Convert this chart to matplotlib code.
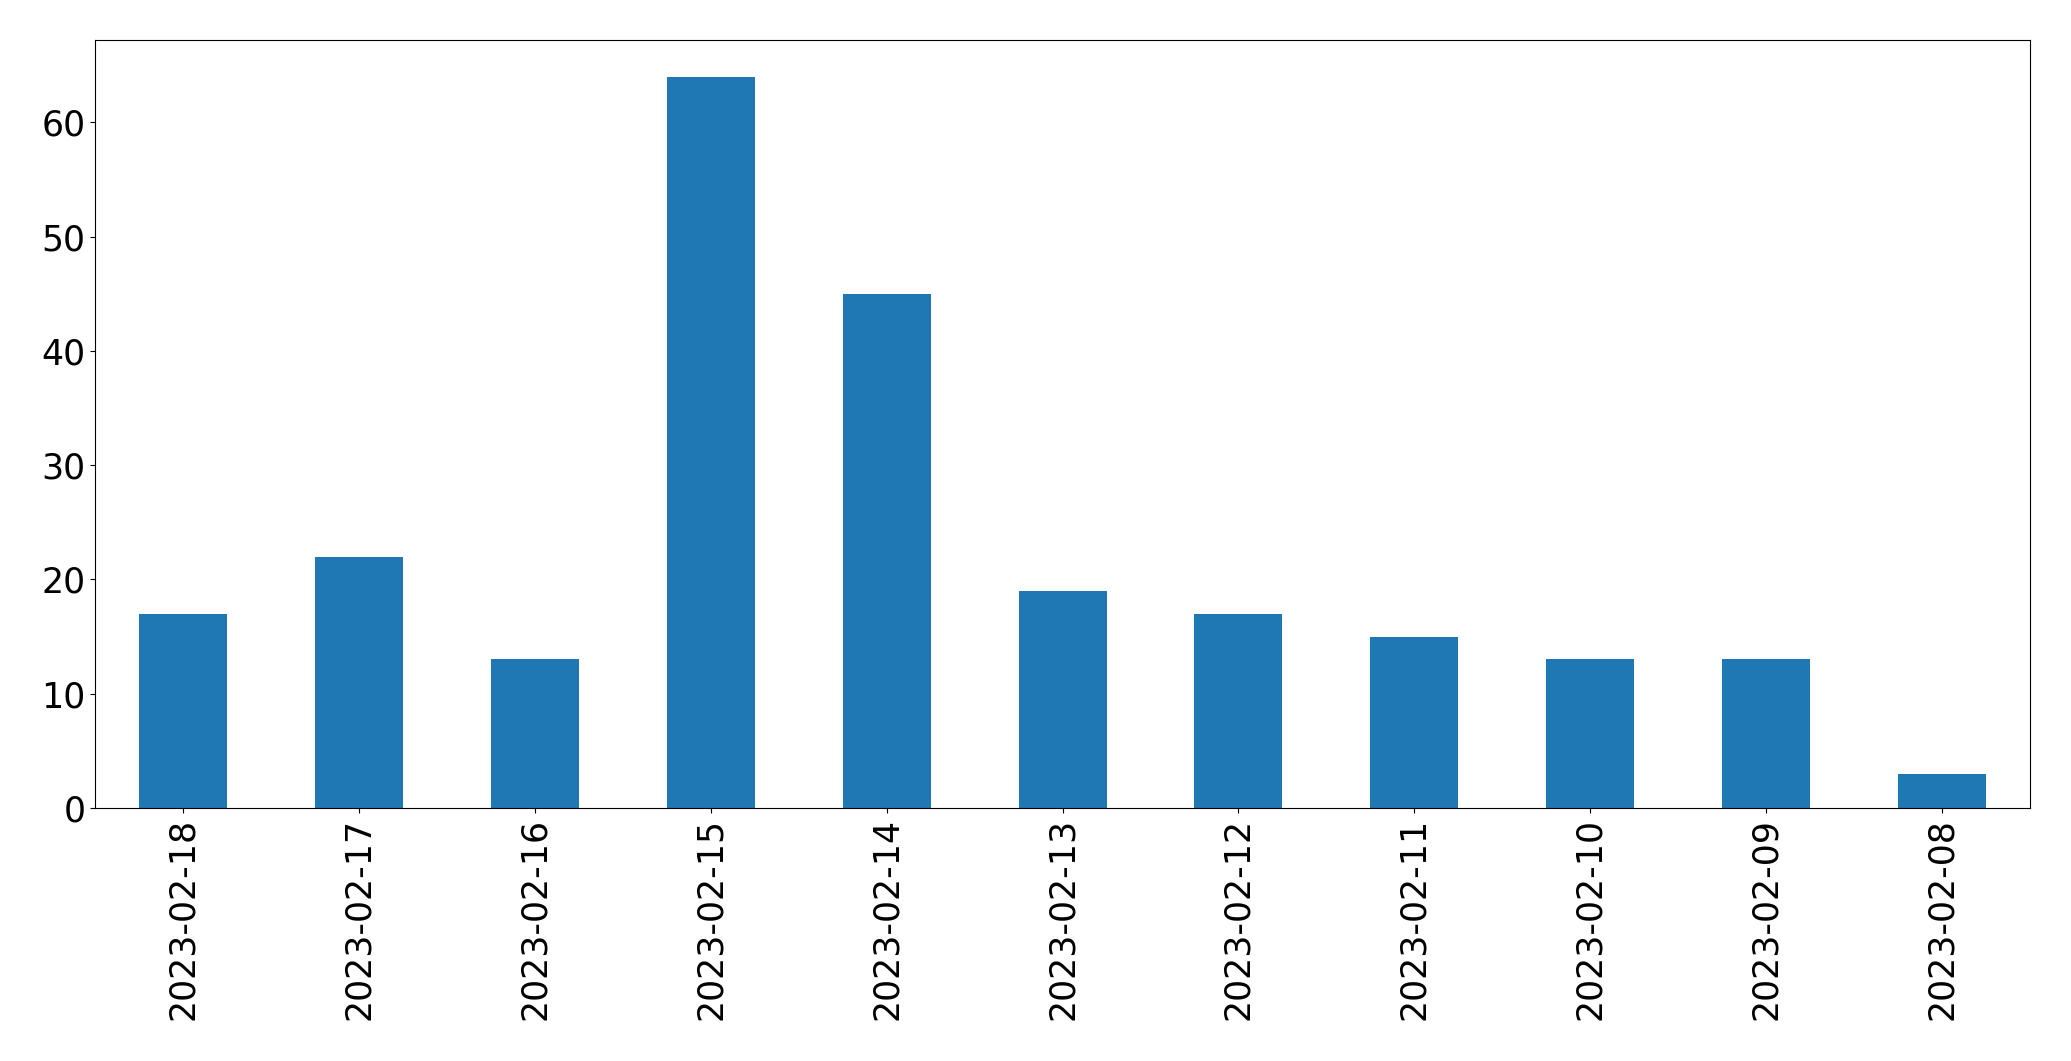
import matplotlib
matplotlib.use('Agg')
import matplotlib.pyplot as plt

dates = ['2023-02-18', '2023-02-17', '2023-02-16', '2023-02-15', '2023-02-14',
         '2023-02-13', '2023-02-12', '2023-02-11', '2023-02-10', '2023-02-09',
         '2023-02-08']
counts = [17, 22, 13, 64, 45, 19, 17, 15, 13, 13, 3]

fig = plt.figure(figsize=(20.71, 10.61), dpi=100)
ax = fig.add_axes([0.0459, 0.2385, 0.9343, 0.7238])

x = range(len(dates))
ax.bar(x, counts, width=0.5, color='#1f77b4')
ax.set_xlim(-0.5, len(dates) - 0.5)
ax.set_ylim(0, max(counts) * 1.05)
ax.set_xticks(list(x))
ax.set_xticklabels(dates, rotation=90)
ax.tick_params(axis='both', labelsize=25)

fig.savefig('out.png', dpi=100)
